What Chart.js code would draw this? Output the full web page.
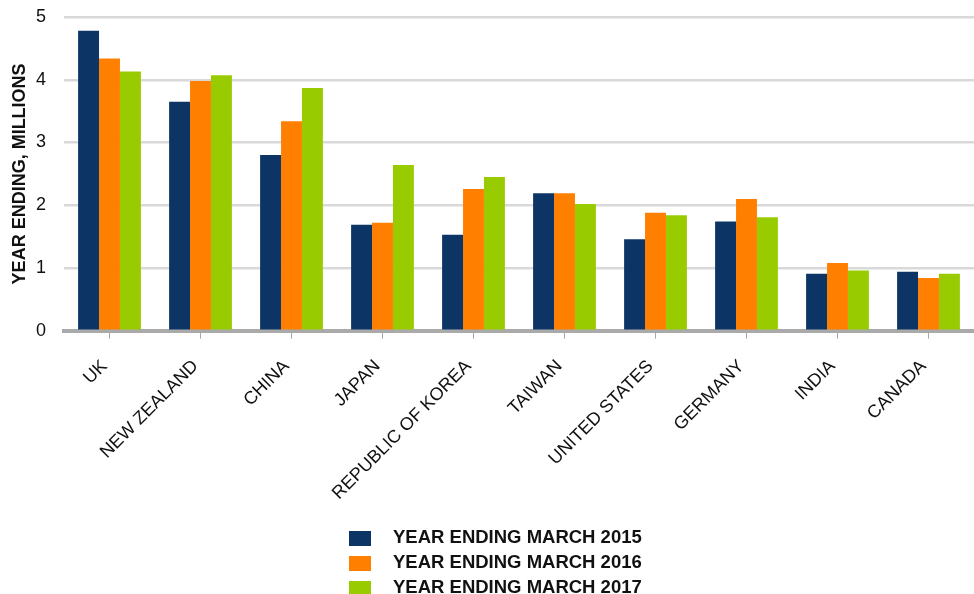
<!DOCTYPE html>
<html>
<head>
<meta charset="utf-8">
<title>Visitors by country</title>
<script src="https://cdn.jsdelivr.net/npm/chart.js@4.4.1/dist/chart.umd.min.js"></script>
<style>
    html, body {
        margin: 0;
        padding: 0;
        background: #ffffff;
        overflow: hidden;
    }
    .wrap {
        position: relative;
        width: 974px;
        height: 594px;
    }
    #legend {
        position: absolute;
        left: 349px;
        top: 524px;
        font-family: "Liberation Sans", Arial, sans-serif;
        font-weight: bold;
        font-size: 18.5px;
        color: #111;
    }
    .legend-row {
        display: flex;
        align-items: center;
        height: 25px;
    }
    .legend-box {
        width: 22px;
        height: 15px;
        margin-right: 22px;
        margin-top: 4px;
    }
</style>
</head>
<body>
<div class="wrap">
    <canvas id="chart" width="974" height="594"></canvas>
    <div id="legend"></div>
</div>
<script>
// Data (values in millions)
const countries = ['UK', 'NEW ZEALAND', 'CHINA', 'JAPAN', 'REPUBLIC OF KOREA',
    'TAIWAN', 'UNITED STATES', 'GERMANY', 'INDIA', 'CANADA'];
const year2015 = [4.78, 3.65, 2.80, 1.69, 1.53, 2.19, 1.46, 1.74, 0.91, 0.94];
const year2016 = [4.34, 3.98, 3.34, 1.72, 2.26, 2.19, 1.88, 2.10, 1.08, 0.84];
const year2017 = [4.13, 4.07, 3.87, 2.64, 2.45, 2.02, 1.84, 1.81, 0.96, 0.91];
const seriesNames = ['YEAR ENDING MARCH 2015', 'YEAR ENDING MARCH 2016', 'YEAR ENDING MARCH 2017'];
const yTicks = [0, 1, 2, 3, 4, 5];

const COLORS = {
    navy: '#0c3566',
    orange: '#ff8000',
    green: '#99cc00',
    grid: '#d9d9d9',
    axis: '#aaaaaa',
    text: '#111111'
};

const FONT = '"Liberation Sans", Arial, sans-serif';
Chart.defaults.font.family = FONT;
Chart.defaults.color = COLORS.text;

const ctx = document.getElementById('chart').getContext('2d');

const chart = new Chart(ctx, {
    type: 'bar',
    data: {
        labels: countries,
        datasets: [
            { label: seriesNames[0], data: year2015, backgroundColor: COLORS.navy },
            { label: seriesNames[1], data: year2016, backgroundColor: COLORS.orange },
            { label: seriesNames[2], data: year2017, backgroundColor: COLORS.green }
        ]
    },
    options: {
        responsive: false,
        animation: false,
        datasets: {
            bar: {
                categoryPercentage: 0.69,
                barPercentage: 1.0
            }
        },
        layout: {
            padding: { top: 17, right: 0, bottom: 73, left: 0 }
        },
        plugins: {
            legend: { display: false },
            tooltip: { enabled: false }
        },
        scales: {
            x: {
                offset: true,
                grid: {
                    offset: false,
                    drawOnChartArea: false,
                    drawTicks: true,
                    tickLength: 8,
                    color: COLORS.axis,
                    lineWidth: 1
                },
                border: { display: true, color: COLORS.axis, width: 4 },
                ticks: {
                    maxRotation: 45,
                    minRotation: 45,
                    autoSkip: false,
                    padding: 17,
                    labelOffset: -5,
                    font: { size: 18 },
                    color: COLORS.text
                }
            },
            y: {
                min: 0,
                max: 5,
                afterFit: (scale) => {
                    scale.width = 64;
                    // keep the tick padding from pushing the plot down
                    scale.paddingTop = 0;
                    scale.paddingBottom = 0;
                },
                afterBuildTicks: (scale) => {
                    scale.ticks = yTicks.map(v => ({ value: v }));
                },
                grid: {
                    color: COLORS.grid,
                    lineWidth: 2.5,
                    drawTicks: false
                },
                border: { display: false },
                ticks: {
                    padding: 18,
                    font: { size: 18 },
                    color: COLORS.text
                },
                title: {
                    display: true,
                    text: 'YEAR ENDING, MILLIONS',
                    font: { size: 18, weight: 'bold' },
                    color: COLORS.text,
                    padding: { top: 9, bottom: 0 }
                }
            }
        }
    }
});

// Build the stacked legend from the chart's datasets
const legendEl = document.getElementById('legend');
chart.data.datasets.forEach(ds => {
    const row = document.createElement('div');
    row.className = 'legend-row';
    const box = document.createElement('span');
    box.className = 'legend-box';
    box.style.background = ds.backgroundColor;
    const label = document.createElement('span');
    label.textContent = ds.label;
    row.appendChild(box);
    row.appendChild(label);
    legendEl.appendChild(row);
});
</script>
</body>
</html>
